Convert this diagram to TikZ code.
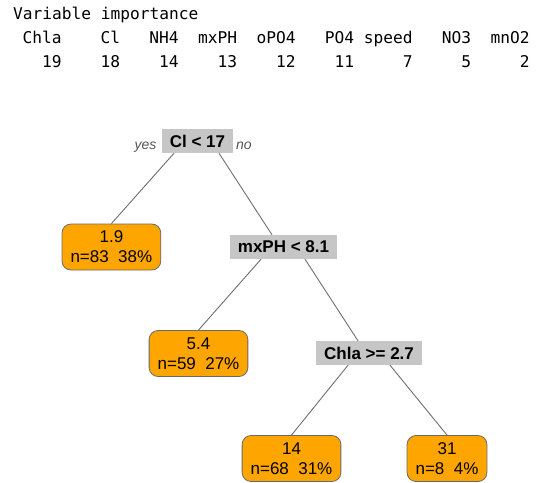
\documentclass[tikz,border=0pt]{standalone}
\usepackage{fontspec}
\setmainfont{Liberation Sans}
\newfontfamily\consolefont{DejaVu Sans Mono}
\usepackage{tikz}
\usetikzlibrary{positioning}
\definecolor{splitgray}{RGB}{198,198,198}
\definecolor{leaforange}{RGB}{255,165,0}
\definecolor{leafedge}{RGB}{105,105,105}
\definecolor{branchgray}{RGB}{110,110,110}
\definecolor{lblgray}{RGB}{85,85,85}

\begin{document}
\begin{tikzpicture}[
        x=1pt, y=-1pt,
        imp/.style={font=\consolefont\fontsize{16.2}{19}\selectfont, inner sep=0pt},
        split/.style={fill=splitgray, font=\fontsize{17}{20}\selectfont\bfseries,
                      inner xsep=8pt, inner ysep=0pt, minimum height=24pt},
        leaf/.style={draw=leafedge, line width=0.8pt, fill=leaforange,
                     rounded corners=9pt, align=center, inner xsep=8.5pt,
                     inner ysep=0pt, minimum height=46pt,
                     font=\fontsize{17}{20}\selectfont},
        lbl/.style={font=\fontsize{14}{16}\selectfont\itshape, text=lblgray, inner sep=0pt},
        branch/.style={draw=branchgray, line width=0.9pt}
    ]
        \useasboundingbox (0,0) rectangle (537,482);

        \node[imp, anchor=base west] (title) at (13,19) {Variable importance};
        \foreach \var/\val [count=\k from 0] in {Chla/19, Cl/18, NH4/14, mxPH/13,
                oPO4/12, PO4/11, speed/7, NO3/5, mnO2/2} {
            \node[imp, anchor=base east] (name-\k) at ({13+(6*\k+5)*9.75},43) {\var};
            \node[imp, anchor=base east] (value-\k) at ({13+(6*\k+5)*9.75},67.5) {\val};
        }

        \node[split] (root) at (197.5,141) {Cl < 17};
        \node[split] (mxph) at (283.5,247) {mxPH < 8.1};
        \node[split] (chla) at (369,353) {Chla >= 2.7};

        \node[leaf] (leaf-19) at (111.4,247) {1.9\\n=83\ \ 38\%};
        \node[leaf] (leaf-54) at (198.5,353.5) {5.4\\n=59\ \ 27\%};
        \node[leaf] (leaf-14) at (291.5,458.5) {14\\n=68\ \ 31\%};
        \node[leaf] (leaf-31) at (447,458.5) {31\\n=8\ \ 4\%};

        \node[lbl, left=5pt of root.base west, anchor=base east, yshift=-2pt] (yes) {yes};
        \node[lbl, right=2.5pt of root.base east, anchor=base west, yshift=-2pt] (no) {no};

        \draw[branch] ([xshift=-23.5pt]root.south) -- (leaf-19.north);
        \draw[branch] ([xshift=21.5pt]root.south) -- ([xshift=-11.5pt]mxph.north);
        \draw[branch] ([xshift=-22.5pt]mxph.south) -- (leaf-54.north);
        \draw[branch] ([xshift=21.5pt]mxph.south) -- ([xshift=-11pt]chla.north);
        \draw[branch] ([xshift=-21pt]chla.south) -- (leaf-14.north);
        \draw[branch] ([xshift=21pt]chla.south) -- (leaf-31.north);
    \end{tikzpicture}
\end{document}
